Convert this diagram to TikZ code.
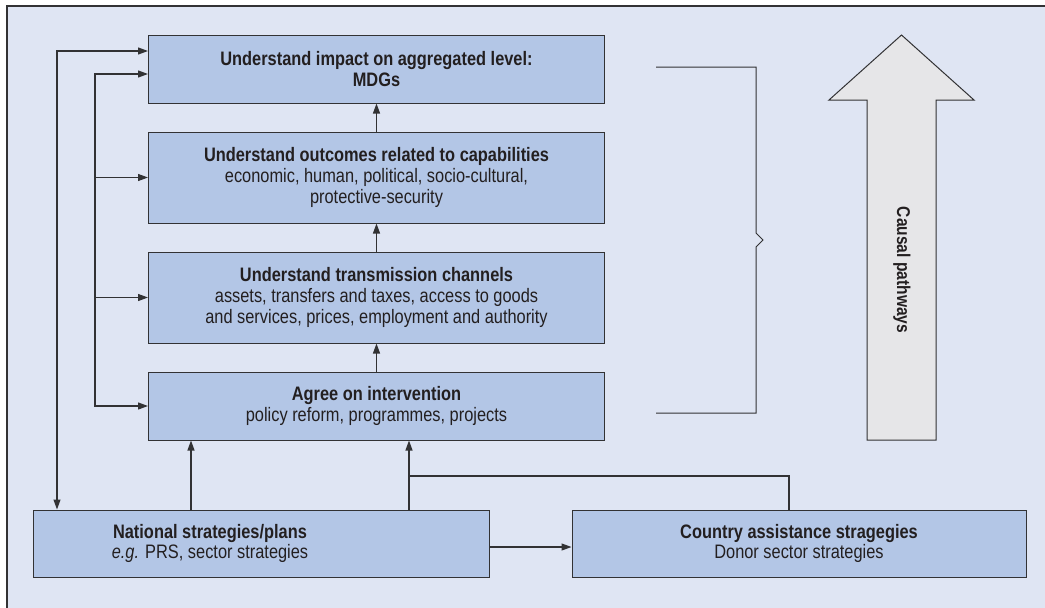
\documentclass[tikz,border=0pt]{standalone}
\usepackage{fontspec}
\setmainfont{Liberation Sans}[FakeStretch=0.84]
\usetikzlibrary{arrows.meta}
\definecolor{panelbg}{RGB}{223,229,243}
\definecolor{boxfill}{RGB}{179,198,230}
\definecolor{arrowfill}{RGB}{230,230,232}
\definecolor{linegray}{RGB}{50,50,52}
\definecolor{inkgray}{RGB}{35,31,32}
\tikzset{
	boxstyle/.style={rectangle,draw=linegray,fill=boxfill,line width=1pt,minimum width=456pt,inner sep=0pt},
	textstyle/.style={align=center,text=inkgray,font=\fontsize{19.5pt}{20.8pt}\selectfont},
	linkstyle/.style={draw=linegray,line width=1.2pt},
	>={Triangle[length=10pt,width=7pt]}
}

\begin{document}
\begin{tikzpicture}[x=1pt,y=-1pt]
	\useasboundingbox (0,0) rectangle (1045,608);
	\fill[panelbg] (7,6) rectangle (1045,608);
	\draw[line width=2pt,linegray] (7,608) -- (7,6) -- (1045,6);
	\node[boxstyle,textstyle,minimum height=68pt] (mdg) at (376.5,69) {\textbf{Understand impact on aggregated level:}\\\textbf{MDGs}};
	\node[boxstyle,textstyle,minimum height=91pt] (outc) at (376.5,177.5) {\textbf{Understand outcomes related to capabilities}\\economic, human, political, socio-cultural,\\protective-security};
	\node[boxstyle,textstyle,minimum height=91pt] (trans) at (376.5,297.5) {\textbf{Understand transmission channels}\\assets, transfers and taxes, access to goods\\and services, prices, employment and authority};
	\node[boxstyle,textstyle,minimum height=68pt] (inter) at (376.5,406) {\textbf{Agree on intervention}\\policy reform, programmes, projects};
	\node[boxstyle,minimum height=67pt] (nat) at (261,543.5) {};
	\node[textstyle] (nattext) at (210,543.5) {\textbf{National strategies/plans}\\\textit{e.g.} PRS, sector strategies};
	\node[boxstyle,textstyle,minimum width=454pt,minimum height=67pt] (cas) at (799,543.5) {\textbf{Country assistance stragegies}\\Donor sector strategies};
	\coordinate (outer) at (57,0);
	\coordinate (trunk) at (95,0);
	\coordinate (join) at (409,476);
	\draw[linkstyle,->] (outc.north) -- (mdg.south);
	\draw[linkstyle,->] (trans.north) -- (outc.south);
	\draw[linkstyle,->] (inter.north) -- (trans.south);
	\draw[linkstyle,<->] ([yshift=18pt]mdg.west) -| (outer |- nat.north);
	\draw[linkstyle,<->] ([yshift=-5pt]mdg.west) -| (trunk |- inter.west) -- (inter.west);
	\draw[linkstyle,->] (trunk |- outc.west) -- (outc.west);
	\draw[linkstyle,->] (trunk |- trans.west) -- (trans.west);
	\draw[linkstyle,->] ([xshift=-70pt]nat.north) -- ([xshift=-70pt]nat.north |- inter.south);
	\draw[linkstyle,->] ([xshift=148pt]nat.north) -- ([xshift=148pt]nat.north |- inter.south);
	\draw[linkstyle] ([xshift=-10pt]cas.north) |- (join);
	\draw[linkstyle,->] ([yshift=-3.5pt]nat.east) -- ([yshift=-3.5pt]cas.west);
	\draw[linkstyle,line width=1pt] (656,67) -- (756,67) -- (756,233) -- (763,240) -- (756,247) -- (756,413) -- (656,413);
	\draw[draw=linegray,fill=arrowfill,line width=1pt] (867,440) -- (867,100) -- (829,100) -- (901.5,35) -- (974,100) -- (936,100) -- (936,440) -- cycle;
	\node[textstyle,font=\fontsize{18.5pt}{20.8pt}\selectfont,rotate=-90] (causal) at (902,270) {\textbf{Causal pathways}};
\end{tikzpicture}
\end{document}
